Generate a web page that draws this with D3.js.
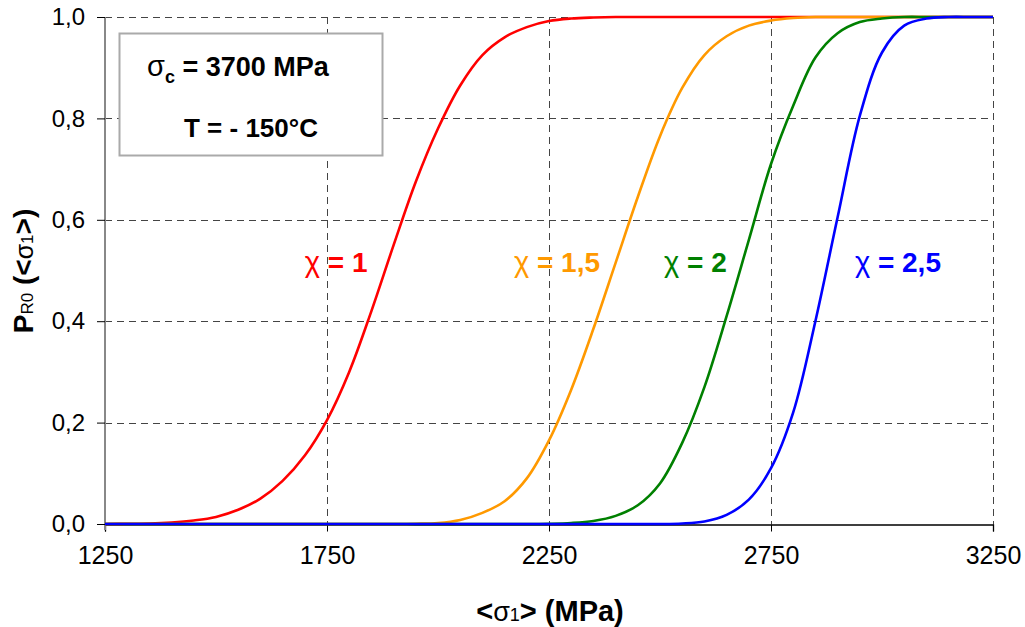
<!DOCTYPE html>
<html>
<head>
<meta charset="utf-8">
<script src="https://cdn.jsdelivr.net/npm/d3@7"></script>
<style>
  html, body { margin: 0; padding: 0; background: #fff; }
  svg { display: block; font-family: Arial, "Liberation Sans", sans-serif; }
</style>
</head>
<body>
<svg id="chart" width="1025" height="627"></svg>
<script>
// ---- data ----
const stress = [1250,1300,1350,1400,1450,1500,1550,1600,1650,1700,1750,1800,1850,1900,1950,2000,2050,2100,2150,2200,2250,2300,2350,2400,2450,2500,2550,2600,2650,2700,2750,2800,2850,2900,2950,3000,3050,3100,3150,3200,3250];
const chi1   = [0,0.0005,0.001,0.003,0.007,0.014,0.028,0.05,0.085,0.135,0.205,0.30,0.42,0.55,0.675,0.78,0.865,0.925,0.96,0.98,0.992,0.997,0.999,1,1,1,1,1,1,1,1,1,1,1,1,1,1,1,1,1,1];
const chi15  = [0,0,0,0,0,0,0,0,0,0,0,0,0,0,0.0005,0.002,0.008,0.022,0.045,0.09,0.165,0.265,0.385,0.515,0.645,0.765,0.86,0.925,0.962,0.983,0.993,0.998,1,1,1,1,1,1,1,1,1];
const chi2   = [0,0,0,0,0,0,0,0,0,0,0,0,0,0,0,0,0,0,0,0,0.0005,0.002,0.006,0.016,0.037,0.08,0.16,0.27,0.41,0.56,0.71,0.825,0.92,0.968,0.99,0.997,1,1,1,1,1];
const chi25  = [0,0,0,0,0,0,0,0,0,0,0,0,0,0,0,0,0,0,0,0,0,0,0,0,0,0,0.001,0.005,0.018,0.048,0.11,0.22,0.40,0.605,0.805,0.93,0.983,0.997,1,1,1];
const seriesNames  = ["χ = 1", "χ = 1,5", "χ = 2", "χ = 2,5"];
const seriesColors = ["#FF0000", "#FF9900", "#008000", "#0000FF"];
const xTicks = [1250, 1750, 2250, 2750, 3250];
const yTicks = [0, 0.2, 0.4, 0.6, 0.8, 1.0];
const labelX = [1700, 2171, 2509, 2939];
const labelY = 0.497;

// ---- layout ----
const svg = d3.select("#chart");
const x = d3.scaleLinear().domain([1250, 3250]).range([105, 993]);
const y = d3.scaleLinear().domain([0, 1]).range([524, 17]);
const fmtY = d => d3.format(".1f")(d).replace(".", ",");

// gridlines
const grid = svg.append("g").attr("stroke", "#444").attr("stroke-width", 1).attr("stroke-dasharray", "7,5");
grid.selectAll("line.h").data(yTicks.filter(d => d > 0)).join("line")
  .attr("x1", x(1250)).attr("x2", x(3250))
  .attr("y1", d => Math.round(y(d)) + 0.5).attr("y2", d => Math.round(y(d)) + 0.5);
grid.selectAll("line.v").data(xTicks.filter(d => d > 1250)).join("line")
  .attr("x1", d => Math.round(x(d)) + 0.5).attr("x2", d => Math.round(x(d)) + 0.5)
  .attr("y1", y(1)).attr("y2", y(0));

// axes
const xAxis = svg.append("g").attr("transform", `translate(0,${Math.round(y(0)) + 0.5})`)
  .call(d3.axisBottom(x).tickValues(xTicks).tickSize(7).tickPadding(15).tickFormat(d3.format("d")));
xAxis.select(".domain").attr("stroke", "#000").attr("stroke-width", 1.3);
xAxis.selectAll(".tick line").attr("stroke", "#000");
xAxis.selectAll(".tick text").attr("font-size", 25).attr("font-family", "Arial, 'Liberation Sans', sans-serif").attr("fill", "#000");

const yAxis = svg.append("g").attr("transform", `translate(${Math.round(x(1250))},0)`)
  .call(d3.axisLeft(y).tickValues(yTicks).tickSize(8).tickPadding(12).tickFormat(fmtY));
yAxis.select(".domain").attr("stroke", "#888").attr("stroke-width", 2).attr("d", `M0,${y(1)}V${y(0) + 6}`);
yAxis.selectAll(".tick line").attr("stroke", "#000");
yAxis.selectAll(".tick text").attr("font-size", 24).attr("font-family", "Arial, 'Liberation Sans', sans-serif").attr("fill", "#000");

// curves
const allSeries = [chi1, chi15, chi2, chi25];
const line = d3.line().curve(d3.curveCatmullRom.alpha(0.5)).x((v, j) => x(stress[j])).y(v => y(v));
svg.append("g").selectAll("path").data(allSeries).join("path")
  .attr("d", d => line(d))
  .attr("fill", "none")
  .attr("stroke", (d, i) => seriesColors[i])
  .attr("stroke-width", 2.6)
  .attr("stroke-linejoin", "round");

// curve labels
const labels = svg.append("g");
seriesNames.forEach((name, i) => {
  const t = labels.append("text")
    .attr("x", x(labelX[i])).attr("y", y(labelY))
    .attr("fill", seriesColors[i]).attr("font-size", 28).attr("font-weight", "bold");
  t.append("tspan").attr("font-weight", "normal").attr("font-size", 29).text(name.slice(0, 1));
  t.append("tspan").text(" " + name.slice(1).trim());
});

// info box
const box = svg.append("g");
box.append("rect").attr("x", 119.5).attr("y", 33.5).attr("width", 263).attr("height", 122)
  .attr("fill", "#fff").attr("stroke", "#aaa").attr("stroke-width", 2);
const t1 = box.append("text").attr("x", 147).attr("y", 76).attr("font-size", 27).attr("font-weight", "bold").attr("fill", "#000");
t1.append("tspan").attr("font-size", 29).attr("font-weight", "normal").text("σ");
t1.append("tspan").attr("font-size", 18).attr("dy", 7).text("c");
t1.append("tspan").attr("dy", -7).text(" = 3700 MPa");
box.append("text").attr("x", 184).attr("y", 137).attr("font-size", 26).attr("font-weight", "bold").attr("fill", "#000")
  .text("T = - 150°C");

// axis titles
const xt = svg.append("text").attr("x", 550).attr("y", 621).attr("text-anchor", "middle")
  .attr("font-size", 29).attr("font-weight", "bold").attr("fill", "#000");
xt.append("tspan").text("<");
xt.append("tspan").attr("font-size", 27).attr("font-weight", "normal").text("σ");
xt.append("tspan").attr("font-size", 18).attr("font-weight", "normal").text("1");
xt.append("tspan").text("> (MPa)");

const yt = svg.append("text").attr("transform", "translate(33,271) rotate(-90)").attr("text-anchor", "middle")
  .attr("font-size", 28).attr("font-weight", "bold").attr("fill", "#000");
yt.append("tspan").text("P");
yt.append("tspan").attr("font-size", 17).attr("font-weight", "normal").text("R0");
yt.append("tspan").text(" (<");
yt.append("tspan").attr("font-size", 25).attr("font-weight", "normal").text("σ");
yt.append("tspan").attr("font-size", 17).attr("font-weight", "normal").text("1");
yt.append("tspan").text(">)");
</script>
</body>
</html>
